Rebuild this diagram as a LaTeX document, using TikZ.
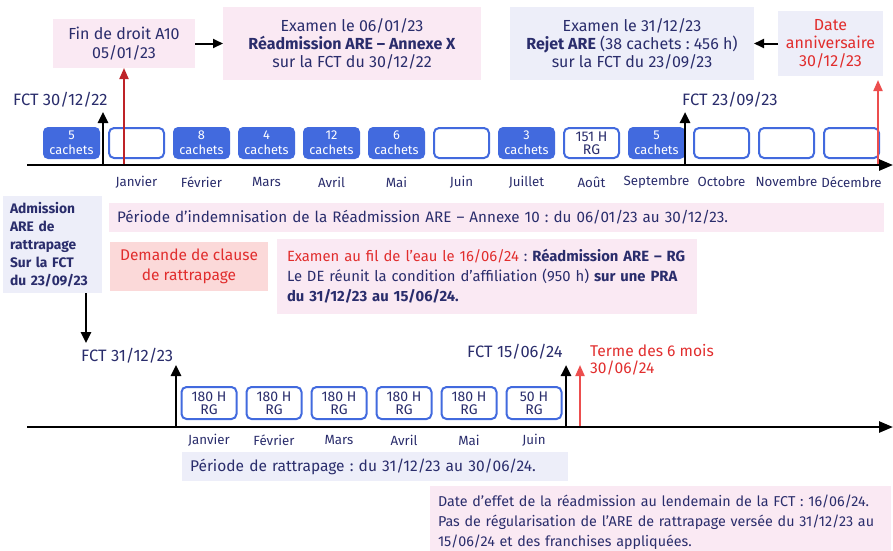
\documentclass[tikz,border=0pt]{standalone}
\usepackage{fontspec}
\setmainfont{Fira Sans}
\usetikzlibrary{arrows.meta}
\frenchspacing
\definecolor{navy}{RGB}{42,45,108}
\definecolor{boxblue}{RGB}{66,106,222}
\definecolor{pinkbg}{RGB}{250,233,243}
\definecolor{lavbg}{RGB}{237,238,249}
\definecolor{redbg}{RGB}{251,217,217}
\definecolor{redtxt}{RGB}{225,45,45}
\definecolor{darkred}{RGB}{190,35,40}
\definecolor{lightred}{RGB}{236,78,78}
\tikzset{
  txt/.style={text=navy, font=\fontsize{16.5}{18}\selectfont, inner sep=0pt},
  bgbox/.style={inner ysep=0pt, inner xsep=0pt, outer sep=0pt, text=navy, font=\fontsize{14.6}{18}\selectfont},
  topfont/.style={font=\fontsize{16}{18}\selectfont},
  pinkbox/.style={bgbox, fill=pinkbg},
  lavbox/.style={bgbox, fill=lavbg},
  redbox/.style={bgbox, fill=redbg, text=redtxt},
  fullbox/.style={rounded corners=5pt, fill=boxblue, text=white, minimum width=57pt, minimum height=32pt, inner sep=0pt, align=center, font=\fontsize{12.8}{15}\selectfont},
  emptybox/.style={rounded corners=5pt, draw=boxblue, line width=2pt, fill=white, text=navy, minimum width=55pt, minimum height=30pt, inner sep=0pt, align=center, font=\fontsize{14}{13}\selectfont},
  month/.style={text=navy, font=\fontsize{13.3}{14}\selectfont, inner sep=0pt},
  tl/.style={line width=2.5pt, -{Triangle[length=14pt,width=11pt]}},
  blackarr/.style={line width=2.5pt, -{Triangle[length=11pt,width=10pt]}},
  harr/.style={line width=2pt, -{Triangle[length=10pt,width=9pt]}},
  redarrA/.style={draw=darkred, line width=2pt, -{Triangle[length=11pt,width=9pt]}},
  redarrB/.style={draw=lightred, line width=2pt, -{Triangle[length=11pt,width=9pt]}},
}
\begin{document}
\begin{tikzpicture}[x=1pt,y=-1pt]
\useasboundingbox (0,0) rectangle (893,550);

% ---------- top boxes ----------
\node[pinkbox, topfont, font=\fontsize{16}{19}\selectfont, minimum width=142pt, minimum height=49pt, align=center] (fin) at (124,43.5) {Fin de droit A10\\05/01/23};
\node[pinkbox, topfont, minimum width=258pt, minimum height=73pt, align=center] (ex1) at (352,43.5) {Examen le 06/01/23\\\textbf{Réadmission ARE – Annexe X}\\sur la FCT du 30/12/22};
\node[lavbox, topfont, minimum width=244pt, minimum height=73pt, align=center] (rej) at (632,43.5) {Examen le 31/12/23\\\textbf{Rejet ARE} (38 cachets : 456 h)\\sur la FCT du 23/09/23};
\node[lavbox, topfont, text=redtxt, minimum width=105pt, minimum height=65pt, align=center] (anniv) at (830.5,43.5) {Date\\anniversaire\\30/12/23};
\draw[harr] (fin.east) -- (ex1.west);
\draw[harr] (anniv.west) -- (rej.east);

% ---------- top timeline ----------
\coordinate (tA) at (27,165);
\coordinate (tB) at (893,165);
\foreach \i/\t in {0/{5\\cachets},2/{8\\cachets},3/{4\\cachets},4/{12\\cachets},5/{6\\cachets},7/{3\\cachets},9/{5\\cachets}}{
  \node[fullbox] (m\i) at ({71.5+65*\i},143) {\t};
}
\foreach \i in {1,6,10,11,12}{
  \node[emptybox] (m\i) at ({71.5+65*\i},143) {};
}
\node[emptybox] (m8) at ({71.5+65*8},143) {151 H\\RG};
\draw[tl] (tA) -- (tB);
\foreach \i/\m in {1/Janvier,2/Février,3/Mars,4/Avril,5/Mai,6/Juin,7/Juillet,8/Août,9/Septembre,10/Octobre,11/Novembre,12/Décembre}{
  \node[month] (lab\i) at ({71.5+65*\i},182) {\m};
}
% FCT arrows
\coordinate (f1b) at (103,164); \coordinate (f1t) at (103,112);
\draw[blackarr] (f1b) -- (f1t);
\node[txt, anchor=base west] (fct1) at (13,105.5) {FCT 30/12/22};
\coordinate (f2b) at (685,164); \coordinate (f2t) at (685,112);
\draw[blackarr] (f2b) -- (f2t);
\node[txt, anchor=base west] (fct2) at (682,105.5) {FCT 23/09/23};
\coordinate (r1b) at (124,164);
\draw[redarrA] (r1b) -- (fin.south);
\coordinate (r2b) at (878,164); \coordinate (r2t) at (878,80);
\draw[redarrB] (r2b) -- (r2t);

% ---------- middle ----------
\node[lavbox, anchor=north west, minimum width=99pt, minimum height=97pt, inner xsep=7pt, text width=85pt, align=left, font=\bfseries\fontsize{13.8}{18}\selectfont] (adm) at (3,196) {Admission\\ARE de\\rattrapage\\Sur la FCT\\du 23/09/23};
\node[pinkbox, anchor=north west, minimum height=29pt, inner xsep=8pt, text width=759pt, align=left, font=\fontsize{15.2}{18}\selectfont] (per) at (109,203) {Période d’indemnisation de la Réadmission ARE – Annexe 10 : du 06/01/23 au 30/12/23.};
\node[redbox, minimum width=158pt, minimum height=49pt, align=center, font=\fontsize{15.5}{20}\selectfont] (dem) at (189,266.5) {Demande de clause\\de rattrapage};
\node[pinkbox, anchor=north west, minimum height=75pt, inner xsep=10pt, text width=400pt, align=left, font=\fontsize{14.8}{20}\selectfont] (fil) at (277,239) {\textcolor{redtxt}{Examen au fil de l’eau le 16/06/24} : \textbf{Réadmission ARE – RG}\\Le DE réunit la condition d’affiliation (950 h) \textbf{sur une PRA}\\\textbf{du 31/12/23 au 15/06/24.}};
\coordinate (d1) at (86,343);
\draw[blackarr] (adm.south -| d1) -- (d1);

% ---------- bottom timeline ----------
\coordinate (bA) at (27,427);
\coordinate (bB) at (893,427);
\foreach \j/\t in {0/{180 H\\RG},1/{180 H\\RG},2/{180 H\\RG},3/{180 H\\RG},4/{180 H\\RG},5/{50 H\\RG}}{
  \node[emptybox, minimum height=32pt] (n\j) at ({209+65*\j},403) {\t};
}
\draw[tl] (bA) -- (bB);
\foreach \j/\m in {0/Janvier,1/Février,2/Mars,3/Avril,4/Mai,5/Juin}{
  \node[month] (bl\j) at ({209+65*\j},440) {\m};
}
\node[txt, anchor=base west] (fct3) at (81,361.5) {FCT 31/12/23};
\coordinate (f3b) at (176,426); \coordinate (f3t) at (176,365);
\draw[blackarr] (f3b) -- (f3t);
\node[txt, anchor=base west] (fct4) at (467,357.5) {FCT 15/06/24};
\coordinate (f4b) at (566,426); \coordinate (f4t) at (566,365);
\draw[blackarr] (f4b) -- (f4t);
\coordinate (r3b) at (580,426); \coordinate (r3t) at (580,365);
\draw[redarrB] (r3b) -- (r3t);
\node[txt, text=redtxt, align=left, anchor=west, font=\fontsize{15.6}{17}\selectfont] (terme) at (590,359.5) {Terme des 6 mois\\30/06/24};

\node[lavbox, anchor=north west, minimum height=29pt, inner xsep=8pt, text width=370pt, align=left, font=\fontsize{15.5}{18}\selectfont] (rat) at (182,452) {Période de rattrapage : du 31/12/23 au 30/06/24.};
\node[pinkbox, anchor=north west, minimum height=72pt, inner xsep=8pt, text width=445pt, align=left, font=\fontsize{14.3}{20}\selectfont] (eff) at (430,486) {Date d’effet de la réadmission au lendemain de la FCT : 16/06/24.\\Pas de régularisation de l’ARE de rattrapage versée du 31/12/23 au\\15/06/24 et des franchises appliquées.};
\end{tikzpicture}
\end{document}
